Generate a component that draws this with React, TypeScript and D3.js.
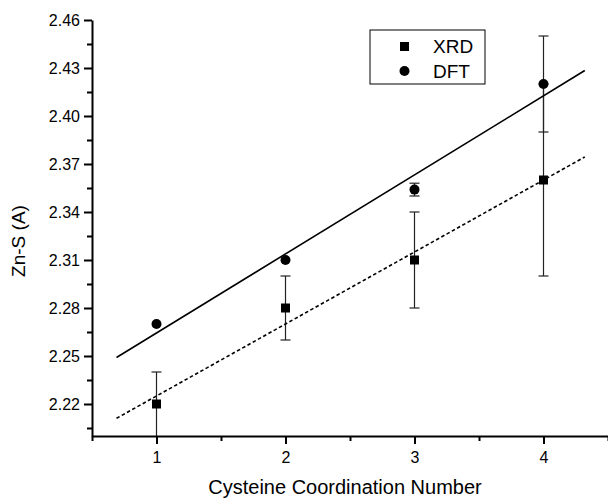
import { useEffect, useRef } from 'react';
import { axisBottom, axisLeft, scaleLinear, select, line, mean } from 'd3';

// data
const coordination = [1, 2, 3, 4];
const xrdValues = [2.22, 2.28, 2.31, 2.36];
const xrdErrors = [0.02, 0.02, 0.03, 0.06];
const dftValues = [2.27, 2.31, 2.354, 2.42];
const dftErrors = [0, 0, 0.004, 0.03];
const fitSpan = [0.69, 4.32];

const xMajor = [1, 2, 3, 4];
const xMinor = [0.5, 1.5, 2.5, 3.5, 4.5];
const yMajor = [2.22, 2.25, 2.28, 2.31, 2.34, 2.37, 2.4, 2.43, 2.46];
const yMinor = [2.205, 2.235, 2.265, 2.295, 2.325, 2.355, 2.385, 2.415, 2.445];

const W = 608;
const H = 498;
const FONT = '"Liberation Sans", Arial, Helvetica, sans-serif';

const x = scaleLinear().domain([0.5, 4.5]).range([92, 608]);
const y = scaleLinear().domain([2.2, 2.46]).range([436, 20]);

// least squares fit of a series against coordination number
const fit = (ys: number[]) => {
  const mx = mean(coordination) as number;
  const my = mean(ys) as number;
  let sxy = 0;
  let sxx = 0;
  coordination.forEach((c, i) => {
    sxy += (c - mx) * (ys[i] - my);
    sxx += (c - mx) * (c - mx);
  });
  const slope = sxy / sxx;
  const icpt = my - slope * mx;
  return fitSpan.map((c) => [c, icpt + slope * c] as [number, number]);
};

const fitLine = line<[number, number]>()
  .x((d) => x(d[0]))
  .y((d) => y(d[1]));

const styleAxis = (g: any) => {
  g.select('.domain').attr('stroke', '#000').attr('stroke-width', 2);
  g.selectAll('.tick line').attr('stroke', '#000').attr('stroke-width', 2);
  g.selectAll('.tick text')
    .attr('fill', '#000')
    .attr('font-family', FONT)
    .attr('font-size', 16);
};

const AxisBottom = () => {
  const ref = useRef<SVGGElement>(null);
  useEffect(() => {
    if (!ref.current) return;
    const g = select(ref.current);
    g.selectAll('*').remove();
    const minor = g.append('g');
    minor.call(axisBottom(x).tickValues(xMinor).tickSize(5).tickSizeOuter(0).tickFormat(() => ''));
    styleAxis(minor);
    const major = g.append('g');
    major.call(axisBottom(x).tickValues(xMajor).tickSize(8).tickSizeOuter(0).tickPadding(8).tickFormat((d) => String(d)));
    styleAxis(major);
    major.select('.domain').remove();
  }, []);
  return <g ref={ref} transform={`translate(0,${y(2.2)})`} />;
};

const AxisLeft = () => {
  const ref = useRef<SVGGElement>(null);
  useEffect(() => {
    if (!ref.current) return;
    const g = select(ref.current);
    g.selectAll('*').remove();
    const minor = g.append('g');
    minor.call(axisLeft(y).tickValues(yMinor).tickSize(5).tickSizeOuter(0).tickFormat(() => ''));
    styleAxis(minor);
    const major = g.append('g');
    major.call(axisLeft(y).tickValues(yMajor).tickSize(8).tickSizeOuter(0).tickPadding(4).tickFormat((d) => (d as number).toFixed(2)));
    styleAxis(major);
    major.select('.domain').remove();
  }, []);
  return <g ref={ref} transform={`translate(${x(0.5)},0)`} />;
};

const ErrorBars = ({ values, errors }: { values: number[]; errors: number[] }) => (
  <g stroke="#222" strokeWidth={1.2}>
    {coordination.map((c, i) =>
      errors[i] > 0 ? (
        <g key={c}>
          <line x1={x(c)} x2={x(c)} y1={y(values[i] - errors[i])} y2={y(values[i] + errors[i])} />
          <line x1={x(c) - 5} x2={x(c) + 5} y1={y(values[i] + errors[i])} y2={y(values[i] + errors[i])} />
          {values[i] - errors[i] > 2.2 && (
            <line x1={x(c) - 5} x2={x(c) + 5} y1={y(values[i] - errors[i])} y2={y(values[i] - errors[i])} />
          )}
        </g>
      ) : null
    )}
  </g>
);

export default function App() {
  return (
    <svg width={W} height={H} style={{ position: 'absolute', left: 0, top: 0, background: '#fff' }}>
      <rect width={W} height={H} fill="#fff" />
      <ErrorBars values={xrdValues} errors={xrdErrors} />
      <ErrorBars values={dftValues} errors={dftErrors} />
      <path d={fitLine(fit(dftValues)) ?? ''} fill="none" stroke="#000" strokeWidth={1.6} />
      <path d={fitLine(fit(xrdValues)) ?? ''} fill="none" stroke="#000" strokeWidth={1.6} strokeDasharray="3.5,2.5" />
      {coordination.map((c, i) => (
        <rect key={`x${c}`} x={x(c) - 4.5} y={y(xrdValues[i]) - 4.5} width={9} height={9} fill="#000" />
      ))}
      {coordination.map((c, i) => (
        <circle key={`d${c}`} cx={x(c)} cy={y(dftValues[i])} r={5} fill="#000" />
      ))}
      <AxisBottom />
      <AxisLeft />
      <text x={(x(0.5) + x(4.5)) / 2 - 5} y={494} textAnchor="middle" fontFamily={FONT} fontSize={20} fill="#000">
        Cysteine Coordination Number
      </text>
      <text transform={`translate(25,${241}) rotate(-90)`} textAnchor="middle" fontFamily={FONT} fontSize={19} fill="#000">
        Zn-S (A)
      </text>
      <g fontFamily={FONT} fontSize={19} fill="#000">
        <rect x={370} y={30} width={115} height={54} fill="#fff" stroke="#000" strokeWidth={1} />
        <rect x={400} y={42} width={9} height={9} fill="#000" />
        <circle cx={404.5} cy={71} r={5} fill="#000" />
        <text x={433} y={53}>XRD</text>
        <text x={433} y={78}>DFT</text>
      </g>
    </svg>
  );
}
